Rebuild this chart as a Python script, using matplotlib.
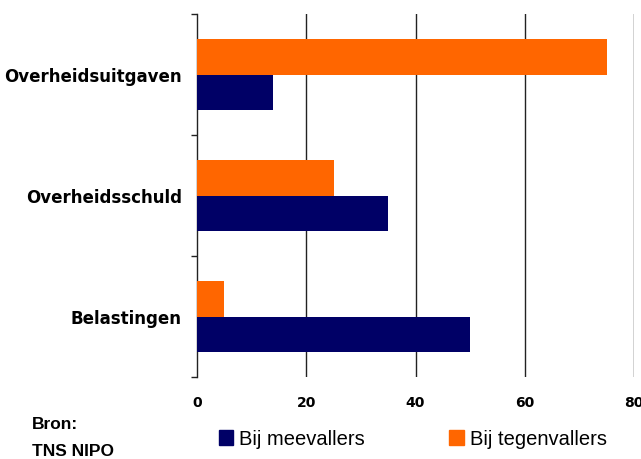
import matplotlib
matplotlib.use("Agg")
import matplotlib.pyplot as plt
from matplotlib.patches import Patch
import numpy as np

plt.rcParams['font.family'] = ['Liberation Sans', 'DejaVu Sans']

categories = ["Belastingen", "Overheidsschuld", "Overheidsuitgaven"]
meevallers = [50, 35, 14]
tegenvallers = [5, 25, 75]
series_names = ["Bij meevallers", "Bij tegenvallers"]
xticks = [0, 20, 40, 60, 80]

navy = "#000066"
orange = "#FF6600"

fig = plt.figure(figsize=(6.41, 4.60), dpi=100)
ax = fig.add_axes([197/641, 1 - 378/460, (634 - 197)/641, (378 - 15)/460])

y = np.arange(len(categories))
h = 0.29
ax.barh(y - h/2, meevallers, height=h, color=navy, zorder=3)
ax.barh(y + h/2, tegenvallers, height=h, color=orange, zorder=3)

ax.set_xlim(0, 80)
ax.set_ylim(-0.5, len(categories) - 0.5)
ax.set_xticks(xticks)
ax.set_xticklabels([str(t) for t in xticks], fontweight='bold', fontsize=10,
                   family='DejaVu Sans')
ax.tick_params(axis='x', length=0, pad=13)
for t in xticks[1:]:
    ax.axvline(t, color='#222222', lw=1.0, zorder=1)

ax.set_yticks(y)
ax.set_yticklabels(categories, fontweight='bold', fontsize=12, family='DejaVu Sans')
ax.set_yticks(np.arange(-0.5, len(categories)), minor=True)
ax.tick_params(axis='y', which='major', length=0, pad=11)
ax.tick_params(axis='y', which='minor', length=4, width=1, color='#222222')

for s in ['top', 'right', 'bottom']:
    ax.spines[s].set_visible(False)
ax.spines['left'].set_color('#222222')
ax.spines['left'].set_linewidth(1.0)

handles = [Patch(color=navy, label=series_names[0]), Patch(color=orange, label=series_names[1])]
fig.legend(handles=handles, loc='center left', bbox_to_anchor=(219/641, 1 - 440/460),
           ncol=2, frameon=False, fontsize=14.5, handlelength=0.7, handleheight=0.7,
           handletextpad=0.3, columnspacing=4.2, borderaxespad=0, borderpad=0)

fig.text(32/641, 1 - 425/460, "Bron:", fontweight='bold', fontsize=12.5, va='center', ha='left')
fig.text(32/641, 1 - 452/460, "TNS NIPO", fontweight='bold', fontsize=12.5, va='center', ha='left')

fig.savefig("out.png", dpi=100)
